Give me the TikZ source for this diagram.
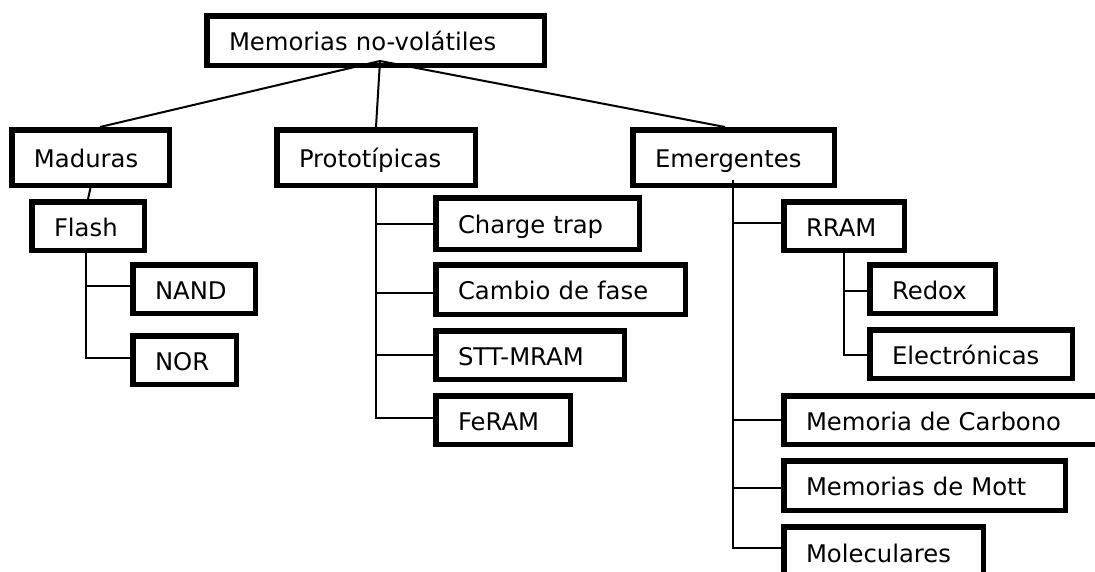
\documentclass[tikz,border=0pt]{standalone}
\usepackage{fontspec}
\setmainfont{DejaVu Sans}
\tikzset{
  mbox/.style 2 args={draw, line width=5.5pt, fill=white, inner xsep=22.25pt, inner ysep=0pt,
    align=left, text height=20pt, text depth=0pt,
    text width=#1pt-50pt, minimum height=#2pt-5.5pt},
  link/.style={line width=2pt}
}
\begin{document}
\begin{tikzpicture}[x=1pt, y=-1pt, font=\fontsize{24.3}{28}\selectfont]
      \useasboundingbox[fill=white] (0,0) rectangle (1095,571);
      % root and the three groups
      \node[mbox={343}{55}] (root) at (375.5,40.5) {Memorias no-volátiles};
      \node[mbox={163}{61}] (mad) at (90.5,157.5) {Maduras};
      \node[mbox={204}{61}] (proto) at (376,157.5) {Prototípicas};
      \node[mbox={207}{61}] (emer) at (733.5,157.5) {Emergentes};
      % maduras
      \node[mbox={118}{54}] (flash) at (88,226) {Flash};
      \node[mbox={128}{54}] (nand) at (194,289) {NAND};
      \node[mbox={109}{54}] (nor) at (184.5,360) {NOR};
      % prototipicas
      \node[mbox={209}{57}] (ctrap) at (537.5,223.5) {Charge trap};
      \node[mbox={255}{55}] (cfase) at (560.5,289.5) {Cambio de fase};
      \node[mbox={194}{54}] (stt) at (530,355) {STT-MRAM};
      \node[mbox={140}{54}] (feram) at (503,420) {FeRAM};
      % emergentes
      \node[mbox={126}{54}] (rram) at (844,226) {RRAM};
      \node[mbox={131}{54}] (redox) at (932.5,289) {Redox};
      \node[mbox={208}{54}] (elec) at (971,354) {Electrónicas};
      \node[mbox={339}{54}] (carb) at (950.5,420) {Memoria de Carbono};
      \node[mbox={287}{55}] (mott) at (924.5,485.5) {Memorias de Mott};
      \node[mbox={205}{56}] (mol) at (883.5,552) {Moleculares};
      \coordinate (apex) at (380,61);
      \begin{scope}[link]
        \draw (apex) -- ([xshift=9.5pt]mad.north);
        \draw (apex) -- (proto.north);
        \draw (apex) -- ([xshift=-8.5pt]emer.north);
        \draw (mad.south) -- (flash.north);
        \draw ([xshift=-2pt]flash.south) |- ([yshift=3pt]nand.west);
        \draw ([xshift=-2pt]flash.south) |- ([yshift=2pt]nor.west);
        \draw (proto.south) |- (ctrap.west);
        \draw (proto.south) |- ([yshift=-3pt]cfase.west);
        \draw (proto.south) |- (stt.west);
        \draw (proto.south) |- ([yshift=2pt]feram.west);
        \draw ([xshift=-0.5pt, yshift=8pt]emer.south) |- ([yshift=3pt]rram.west);
        \draw ([xshift=-0.5pt, yshift=8pt]emer.south) |- (carb.west);
        \draw ([xshift=-0.5pt, yshift=8pt]emer.south) |- ([yshift=-2.5pt]mott.west);
        \draw ([xshift=-0.5pt, yshift=8pt]emer.south) |- ([yshift=4pt]mol.west);
        \draw (rram.south) |- ([yshift=-2pt]redox.west);
        \draw (rram.south) |- ([yshift=-1pt]elec.west);
      \end{scope}
    \end{tikzpicture}
\end{document}
